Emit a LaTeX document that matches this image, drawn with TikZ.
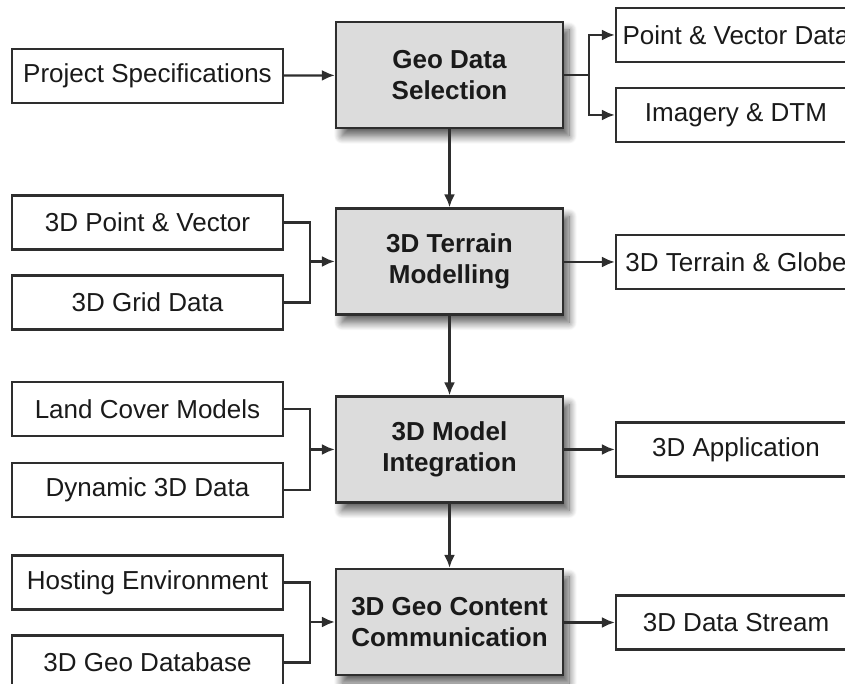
\documentclass[tikz,border=0pt]{standalone}
\usepackage{fontspec}
\setmainfont{Liberation Sans}
\usetikzlibrary{arrows.meta,shadows.blur}
\definecolor{edgegray}{HTML}{2E2E2E}
\definecolor{stagefill}{HTML}{DCDCDC}
\definecolor{inkgray}{HTML}{1A1A1A}
\begin{document}
\begin{tikzpicture}[>={Latex[length=13bp,width=11bp]},line join=miter,
  every node/.style={font=\fontsize{26bp}{31bp}\selectfont,text=inkgray},
  inbox/.style={draw=edgegray,line width=2.3bp,fill=white,minimum width=271bp,minimum height=54bp,inner sep=0pt},
  outbox/.style={draw=edgegray,line width=2.3bp,fill=white,minimum width=240bp,minimum height=54bp,inner sep=0pt},
  stage/.style={draw=edgegray,line width=2.3bp,fill=stagefill,minimum width=227bp,minimum height=106bp,
    inner sep=0pt,align=center,font=\fontsize{26bp}{31bp}\selectfont\bfseries,
    blur shadow={shadow xshift=6bp,shadow yshift=-8bp,shadow blur radius=8bp,shadow blur steps=12,shadow opacity=65}},
  link/.style={edgegray,line width=2.3bp},
]
\useasboundingbox (0bp,0bp) rectangle (845bp,684bp);
\clip (0bp,0bp) rectangle (845bp,684bp);
%%
\node (node_specs) at (147.5bp,608bp) [inbox] {Project Specifications};
  \node (node_pointvec) at (147.5bp,461.5bp) [inbox] {3D Point \& Vector};
  \node (node_grid) at (147.5bp,381.5bp) [inbox] {3D Grid Data};
  \node (node_landcover) at (147.5bp,275bp) [inbox] {Land Cover Models};
  \node (node_dynamic) at (147.5bp,194bp) [inbox] {Dynamic 3D Data};
  \node (node_hosting) at (147.5bp,101.5bp) [inbox] {Hosting Environment};
  \node (node_geodb) at (147.5bp,21.5bp) [inbox] {3D Geo Database};
%
\node (node_select) at (449.5bp,609bp) [stage] {Geo Data\\Selection};
  \node (node_terrain) at (449.5bp,422.5bp) [stage] {3D Terrain\\Modelling};
  \node (node_integr) at (449.5bp,234.5bp) [stage] {3D Model\\Integration};
  \node (node_comm) at (449.5bp,62bp) [stage] {3D Geo Content\\Communication};
%
\node (node_ptdata) at (736bp,649bp) [outbox] {Point \& Vector Data};
  \node (node_imagery) at (736bp,569bp) [outbox] {Imagery \& DTM};
  \node (node_globe) at (736bp,422bp) [outbox] {3D Terrain \& Globe};
  \node (node_app) at (736bp,234.5bp) [outbox] {3D Application};
  \node (node_stream) at (736bp,61.5bp) [outbox] {3D Data Stream};
%
\coordinate (split_select) at (589bp,609bp);
  \coordinate (join_terrain) at (310bp,422.5bp);
  \coordinate (join_integr) at (310bp,234.5bp);
  \coordinate (join_comm) at (310bp,62bp);
%
\draw [link,->] (node_specs) -- (node_select);
  \draw [link] (node_select.east) -- (split_select);
  \draw [link,->] (split_select) |- (node_ptdata.west);
  \draw [link,->] (split_select) |- (node_imagery.west);
  \draw [link,->] (node_select) -- (node_terrain);
  \draw [link] (node_pointvec.east) -| (join_terrain);
  \draw [link] (node_grid.east) -| (join_terrain);
  \draw [link,->] (join_terrain) -- (node_terrain.west);
  \draw [link,->] (node_terrain.east |- node_globe) -- (node_globe.west);
  \draw [link,->] (node_terrain) -- (node_integr);
  \draw [link] (node_landcover.east) -| (join_integr);
  \draw [link] (node_dynamic.east) -| (join_integr);
  \draw [link,->] (join_integr) -- (node_integr.west);
  \draw [link,->] (node_integr) -- (node_app);
  \draw [link,->] (node_integr) -- (node_comm);
  \draw [link] (node_hosting.east) -| (join_comm);
  \draw [link] (node_geodb.east) -| (join_comm);
  \draw [link,->] (join_comm) -- (node_comm.west);
  \draw [link,->] (node_comm.east |- node_stream) -- (node_stream.west);
%
\end{tikzpicture}
\end{document}
